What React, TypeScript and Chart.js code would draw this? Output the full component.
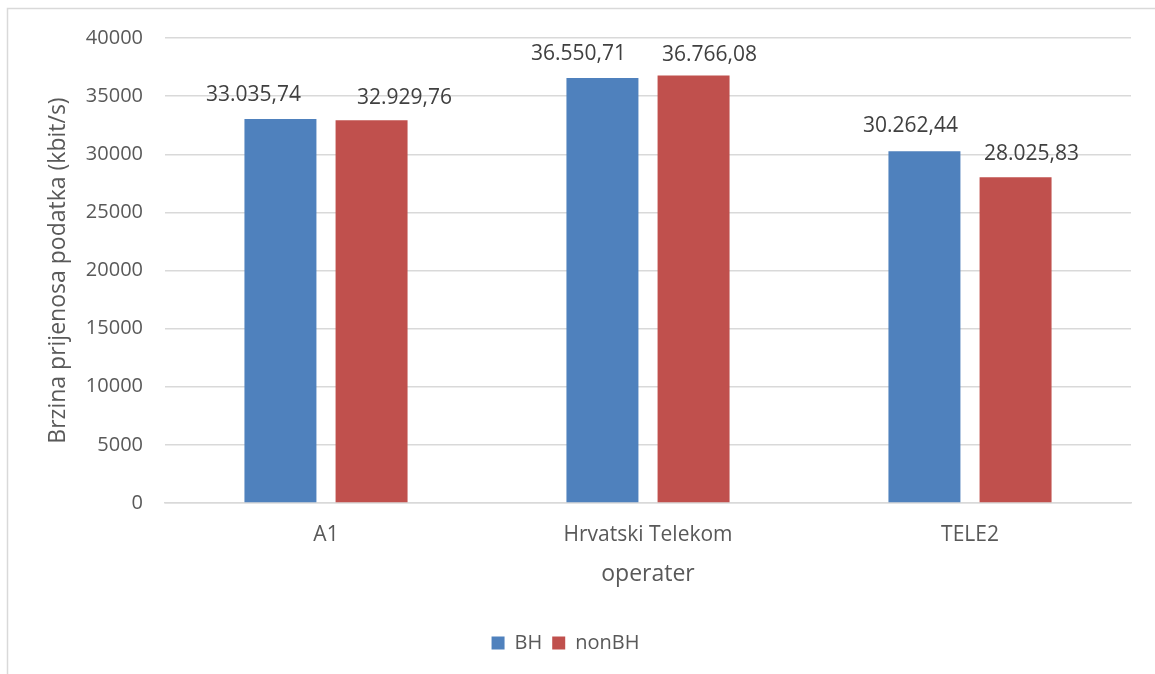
import React, { useEffect, useRef } from "react";
import { Chart, registerables } from "chart.js";

Chart.register(...registerables);

const categories = ["A1", "Hrvatski Telekom", "TELE2"];
const seriesNames = ["BH", "nonBH"];
const bhValues = [33035.74, 36550.71, 30262.44];
const nonBhValues = [32929.76, 36766.08, 28025.83];
const yTicksMin = 0;
const yTicksMax = 40000;
const yTickStep = 5000;

// manual label nudges (Excel-moved labels), per dataset per category
const labelNudgeX = [
  [-27, -24, -14],
  [33, 16, 16],
];
const labelNudgeY = [
  [-18, -18, -19],
  [-16, -15, -17],
];

const FONT = "'Open Sans', 'Noto Sans', sans-serif";
const TEXT = "#595959";

function formatHr(v: number): string {
  const fixed = v.toFixed(2);
  const [intPart, dec] = fixed.split(".");
  const withSep = intPart.replace(/\B(?=(\d{3})+(?!\d))/g, ".");
  return withSep + "," + dec;
}

const framePlugin = {
  id: "frame",
  beforeDraw(chart: any) {
    const ctx = chart.ctx;
    ctx.save();
    ctx.fillStyle = "#ffffff";
    ctx.fillRect(0, 0, chart.width, chart.height);
    ctx.strokeStyle = "#d9d9d9";
    ctx.lineWidth = 1.5;
    ctx.strokeRect(7.5, 8.5, chart.width + 50, chart.height + 50);
    ctx.restore();
  },
};

const labelPlugin = {
  id: "barLabels",
  afterDatasetsDraw(chart: any) {
    const ctx = chart.ctx;
    ctx.save();
    ctx.font = `21px ${FONT}`;
    ctx.fillStyle = "#404040";
    ctx.textAlign = "center";
    ctx.textBaseline = "alphabetic";
    chart.data.datasets.forEach((ds: any, di: number) => {
      const meta = chart.getDatasetMeta(di);
      meta.data.forEach((bar: any, i: number) => {
        const v = ds.data[i] as number;
        ctx.fillText(
          formatHr(v),
          bar.x + labelNudgeX[di][i],
          bar.y + labelNudgeY[di][i]
        );
      });
    });
    ctx.restore();
  },
};

export default function App() {
  const ref = useRef<HTMLCanvasElement | null>(null);

  useEffect(() => {
    document.body.style.margin = "0";
    const canvas = ref.current;
    if (!canvas) return;
    const chart = new Chart(canvas, {
      type: "bar",
      data: {
        labels: categories,
        datasets: [
          {
            label: seriesNames[0],
            data: bhValues,
            backgroundColor: "#4f81bd",
            categoryPercentage: 0.566,
            barPercentage: 0.79,
          },
          {
            label: seriesNames[1],
            data: nonBhValues,
            backgroundColor: "#c0504d",
            categoryPercentage: 0.566,
            barPercentage: 0.79,
          },
        ],
      },
      options: {
        animation: false,
        responsive: false,
        maintainAspectRatio: false,
        layout: {
          padding: { left: 0, right: 24, top: 38, bottom: 11 },
        },
        plugins: {
          legend: {
            position: "bottom",
            labels: {
              boxWidth: 13,
              boxHeight: 13,
              color: TEXT,
              font: { family: FONT, size: 20 },
              padding: 10,
            },
          },
          tooltip: { enabled: false },
        },
        scales: {
          x: {
            grid: { display: false },
            border: { display: true, color: "#d9d9d9", width: 1.5 },
            ticks: {
              color: TEXT,
              font: { family: FONT, size: 21 },
              padding: 11,
            },
            title: {
              display: true,
              text: "operater",
              color: TEXT,
              font: { family: FONT, size: 23 },
              padding: { top: 0, bottom: 35 },
            },
            afterFit(scale: any) {
              scale.height = 120;
            },
          },
          y: {
            min: yTicksMin,
            max: yTicksMax,
            ticks: {
              stepSize: yTickStep,
              color: TEXT,
              font: { family: FONT, size: 20 },
              padding: 22,
              callback: (v: any) => String(v),
            },
            grid: { color: "#d9d9d9", lineWidth: 1.5, drawTicks: false },
            border: { display: false },
            title: {
              display: true,
              text: "Brzina prijenosa podatka (kbit/s)",
              color: TEXT,
              font: { family: FONT, size: 23 },
              padding: { top: 45, bottom: 0 },
            },
            afterFit(scale: any) {
              scale.width = 165;
            },
          },
        },
      },
      plugins: [framePlugin, labelPlugin],
    });
    return () => chart.destroy();
  }, []);

  return (
    <div style={{ width: 1155, height: 674 }}>
      <canvas ref={ref} width={1155} height={674} style={{ display: "block" }} />
    </div>
  );
}
